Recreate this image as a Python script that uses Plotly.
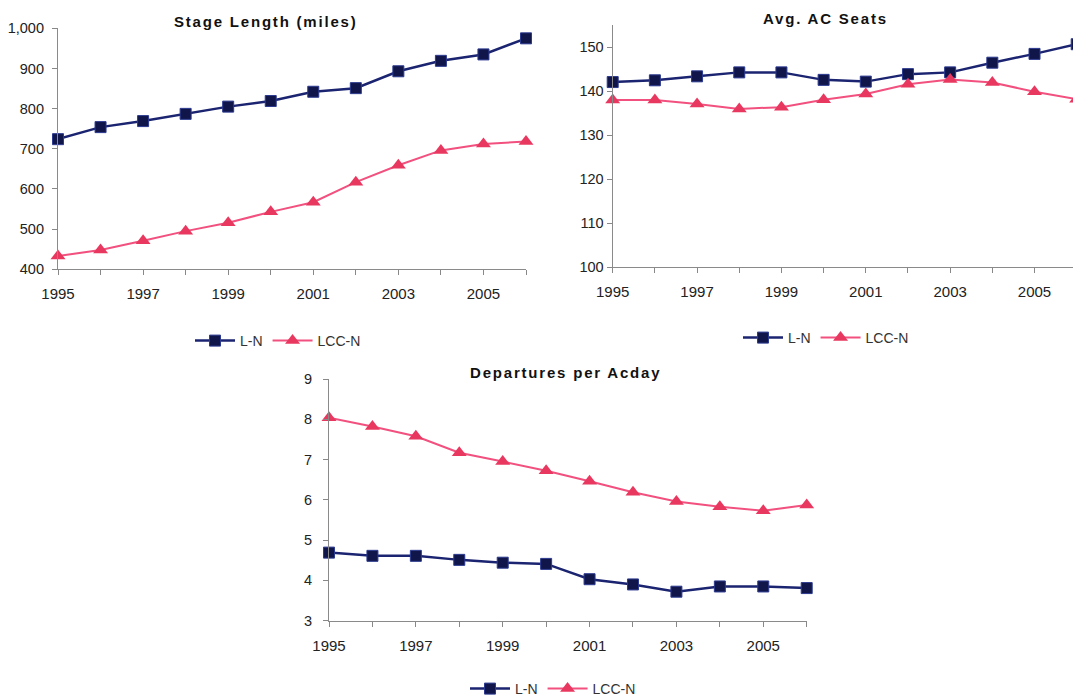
import plotly.graph_objects as go

years = list(range(1995, 2007))

stage_ln = [724, 754, 769, 787, 805, 819, 842, 851, 893, 919, 935, 975]
stage_lcc = [433, 448, 471, 495, 516, 543, 567, 617, 659, 696, 712, 718]

seats_ln = [142.1, 142.5, 143.4, 144.3, 144.3, 142.6, 142.2, 143.9, 144.3, 146.5, 148.5, 150.7]
seats_lcc = [138.0, 138.0, 137.1, 136.0, 136.4, 138.1, 139.4, 141.6, 142.7, 142.0, 139.9, 138.2]

dep_ln = [4.69, 4.61, 4.61, 4.51, 4.44, 4.41, 4.03, 3.90, 3.72, 3.85, 3.85, 3.81]
dep_lcc = [8.04, 7.82, 7.58, 7.17, 6.95, 6.72, 6.46, 6.19, 5.96, 5.83, 5.73, 5.87]

titles = ["Stage Length (miles)", "Avg. AC Seats", "Departures per Acday"]
series_names = ["L-N", "LCC-N"]

NAVY = "#1b2470"
NAVY_FILL = "#10164a"
PINK = "#f2507e"
PINK_FILL = "#e8385f"
FONT = "Arial, Liberation Sans, sans-serif"

OFF = 8  # default page body margin
W, H = 1081 - OFF, 700 - OFF

def px_x(p):
    return (p - OFF) / W

def px_y(p):
    return 1 - (p - OFF) / H

fig = go.Figure()

panels = [
    (stage_ln, stage_lcc, "x", "y", "legend"),
    (seats_ln, seats_lcc, "x2", "y2", "legend2"),
    (dep_ln, dep_lcc, "x3", "y3", "legend3"),
]

for ln, lcc, xa, ya, lg in panels:
    fig.add_trace(go.Scatter(
        x=years, y=ln, name=series_names[0], mode="lines+markers",
        xaxis=xa, yaxis=ya, legend=lg, cliponaxis=False,
        line=dict(color=NAVY, width=2.5),
        marker=dict(symbol="square", size=11, color=NAVY_FILL,
                    line=dict(color="#2c3a90", width=1)),
    ))
    fig.add_trace(go.Scatter(
        x=years, y=lcc, name=series_names[1], mode="lines+markers",
        xaxis=xa, yaxis=ya, legend=lg, cliponaxis=False,
        line=dict(color=PINK, width=2),
        marker=dict(symbol="triangle-up", size=13, color=PINK_FILL,
                    line=dict(color=PINK_FILL, width=0)),
    ))

def xaxis_cfg(domain, anchor):
    return dict(
        domain=domain, anchor=anchor, range=[1995, 2006], automargin=False,
        tick0=1995, dtick=2, ticks="outside", ticklen=5, tickcolor="#888",
        minor=dict(dtick=1, tick0=1995, ticks="outside", ticklen=5, tickcolor="#888", showgrid=False),
        showline=True, linecolor="#8a8a8a", linewidth=1.2,
        showgrid=False, zeroline=False, ticklabelstandoff=6,
        tickfont=dict(family=FONT, size=15, color="#222"),
    )

def yaxis_cfg(domain, anchor, rng, dtick, standoff, fmt=None):
    d = dict(
        domain=domain, anchor=anchor, range=rng, dtick=dtick, tick0=rng[0],
        automargin=False,
        ticks="outside", ticklen=5, tickcolor="#888",
        showline=True, linecolor="#8a8a8a", linewidth=1.2,
        showgrid=False, zeroline=False, ticklabelstandoff=standoff,
        tickfont=dict(family=FONT, size=14.5, color="#222"),
    )
    if fmt:
        d["tickformat"] = fmt
    return d

def title_text(t):
    return '<span style="letter-spacing:1.8px">' + t + '</span>'

leg_font = dict(family=FONT, size=14, color="#333")

def title_ann(t, cx, cy):
    return dict(text=title_text(t), x=px_x(cx), y=px_y(cy), xref="paper", yref="paper",
                xanchor="center", yanchor="middle", showarrow=False,
                font=dict(family=FONT, size=15, color="#111", weight="bold"))

fig.update_layout(
    width=W, height=H,
    margin=dict(l=0, r=0, t=0, b=0, autoexpand=False),
    paper_bgcolor="white", plot_bgcolor="white",
    font=dict(family=FONT, color="#222"),
    xaxis=xaxis_cfg([px_x(58), px_x(526)], "y"),
    yaxis=yaxis_cfg([px_y(269.3), px_y(28.3)], "x", [400, 1000], 100, 5, ",d"),
    xaxis2=xaxis_cfg([px_x(612.7), px_x(1076.7)], "y2"),
    yaxis2=yaxis_cfg([px_y(267.3), px_y(25.3)], "x2", [100, 155], 10, 0),
    xaxis3=xaxis_cfg([px_x(329), px_x(806.7)], "y3"),
    yaxis3=yaxis_cfg([px_y(620.7), px_y(379)], "x3", [3, 9], 1, 8),
    legend=dict(orientation="h", x=px_x(190), y=px_y(341), xanchor="left", yanchor="middle",
                font=leg_font, itemwidth=40, bgcolor="rgba(0,0,0,0)"),
    legend2=dict(orientation="h", x=px_x(738), y=px_y(338), xanchor="left", yanchor="middle",
                 font=leg_font, itemwidth=40, bgcolor="rgba(0,0,0,0)"),
    legend3=dict(orientation="h", x=px_x(465), y=px_y(689), xanchor="left", yanchor="middle",
                 font=leg_font, itemwidth=40, bgcolor="rgba(0,0,0,0)"),
    annotations=[
        title_ann(titles[0], 266, 22),
        title_ann(titles[1], 825, 19),
        title_ann(titles[2], 565, 372),
    ],
)

fig.write_html("out.html")
